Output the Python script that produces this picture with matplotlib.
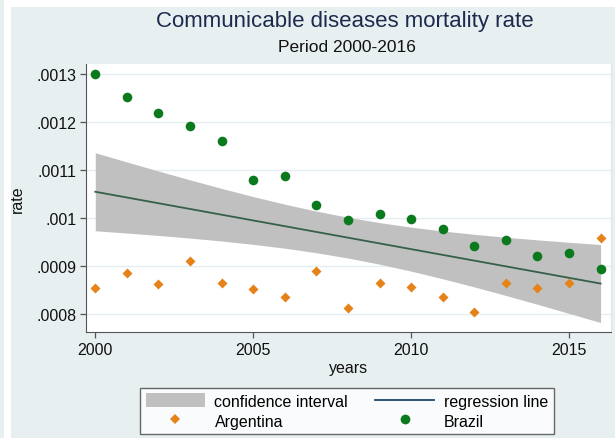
import numpy as np
import matplotlib
matplotlib.use("Agg")
import matplotlib.pyplot as plt
from matplotlib.patches import Patch, Rectangle
from matplotlib.lines import Line2D
from matplotlib.ticker import FuncFormatter

# Mortality rate from communicable diseases, 2000-2016
years = np.arange(2000, 2017)
argentina = [0.000855, 0.000886, 0.000863, 0.000910, 0.000865, 0.000853,
             0.000836, 0.000890, 0.000813, 0.000865, 0.000856, 0.000836,
             0.000805, 0.000864, 0.000855, 0.000865, 0.000959]
brazil = [0.001301, 0.001252, 0.001220, 0.001192, 0.001162, 0.001080,
          0.001089, 0.001028, 0.000996, 0.001009, 0.000998, 0.000978,
          0.000941, 0.000954, 0.000921, 0.000927, 0.000894]
y_ticks = [0.0008, 0.0009, 0.0010, 0.0011, 0.0012, 0.0013]
x_ticks = [2000, 2005, 2010, 2015]

# Pooled linear fit with 95% confidence interval of the mean prediction
x_all = np.concatenate([years, years]).astype(float)
y_all = np.concatenate([argentina, brazil])
n = len(x_all)
slope, intercept = np.polyfit(x_all, y_all, 1)
fit = intercept + slope * years
resid = y_all - (intercept + slope * x_all)
s = np.sqrt(np.sum(resid ** 2) / (n - 2))
sxx = np.sum((x_all - x_all.mean()) ** 2)
se = s * np.sqrt(1.0 / n + (years - x_all.mean()) ** 2 / sxx)
T_CRIT = 2.0369  # t(0.975, df=32)
lo, hi = fit - T_CRIT * se, fit + T_CRIT * se

BG = "#e8eff1"
plt.rcParams["font.family"] = ["Liberation Sans", "DejaVu Sans"]

fig = plt.figure(figsize=(6.15, 4.39), dpi=100, facecolor=BG)
W, H = 615, 439
# white margins of the canvas
fig.patches.append(Rectangle((4 / W, 0), 7 / W, 1, transform=fig.transFigure,
                             facecolor="white", edgecolor="none", zorder=0))
fig.patches.append(Rectangle((11 / W, 1 - 8 / H), 1, 8 / H, transform=fig.transFigure,
                             facecolor="white", edgecolor="none", zorder=0))

ax = fig.add_axes([86 / W, 1 - 333 / H, (611 - 86) / W, (333 - 65) / H])
ax.set_facecolor("white")

ax.fill_between(years, lo, hi, color="#c0c0c0", linewidth=0, zorder=2)
ax.plot(years, fit, color="#35604a", linewidth=1.3, zorder=3)
ax.scatter(years, argentina, marker="D", s=26, color="#e5831a", linewidths=0, zorder=4)
ax.scatter(years, brazil, marker="o", s=48, color="#0b7a1c", linewidths=0, zorder=4)

ax.set_xlim(1999.706, 2016.33)
ax.set_ylim(0.0007624, 0.0013219)
ax.set_xticks(x_ticks)
ax.set_yticks(y_ticks)
ax.yaxis.set_major_formatter(FuncFormatter(lambda v, p: ("%.4f" % v).rstrip("0").lstrip("0")))
ax.grid(axis="y", color="#e4eef0", linewidth=1.0, zorder=0)
ax.set_axisbelow(True)

for side in ("top",):
    ax.spines[side].set_visible(False)
ax.spines["right"].set_color("#dfe6e8")
ax.spines["left"].set_color("#555555")
ax.spines["bottom"].set_color("#555555")
ax.tick_params(axis="both", direction="out", length=4, width=0.9, color="#555555",
               labelsize=11.5, labelcolor="#111111", pad=3)

ax.set_ylabel("rate", fontsize=11.5, color="#111111", labelpad=8)
ax.set_xlabel("years", fontsize=11.5, color="#111111", labelpad=2)

fig.text(345 / W, 1 - 22 / H, "Communicable diseases mortality rate", ha="center",
         va="center", fontsize=16, color="#1c2b4d")
fig.text(347 / W, 1 - 48 / H, "Period 2000-2016", ha="center", va="center",
         fontsize=12.5, color="#111111")

handles = [
    Patch(facecolor="#c0c0c0", edgecolor="none"),
    Line2D([], [], marker="D", linestyle="none", markersize=5, color="#e5831a",
           markeredgewidth=0),
    Line2D([], [], color="#1a476f", linewidth=1.3),
    Line2D([], [], marker="o", linestyle="none", markersize=7, color="#0b7a1c",
           markeredgewidth=0),
]
labels = ["confidence interval", "Argentina", "regression line", "Brazil"]
leg = fig.legend(handles, labels, ncol=2, loc="center", bbox_to_anchor=(347 / W, 1 - 412 / H),
                 fontsize=11.5, frameon=True, fancybox=False, handlelength=3.7,
                 handleheight=0.9, handletextpad=0.6, columnspacing=1.7,
                 labelspacing=0.3, borderpad=0.35, borderaxespad=0)
leg.get_frame().set_edgecolor("#444444")
leg.get_frame().set_linewidth(1.0)
leg.get_frame().set_facecolor("white")

fig.savefig("out.png", dpi=100, facecolor=BG)
